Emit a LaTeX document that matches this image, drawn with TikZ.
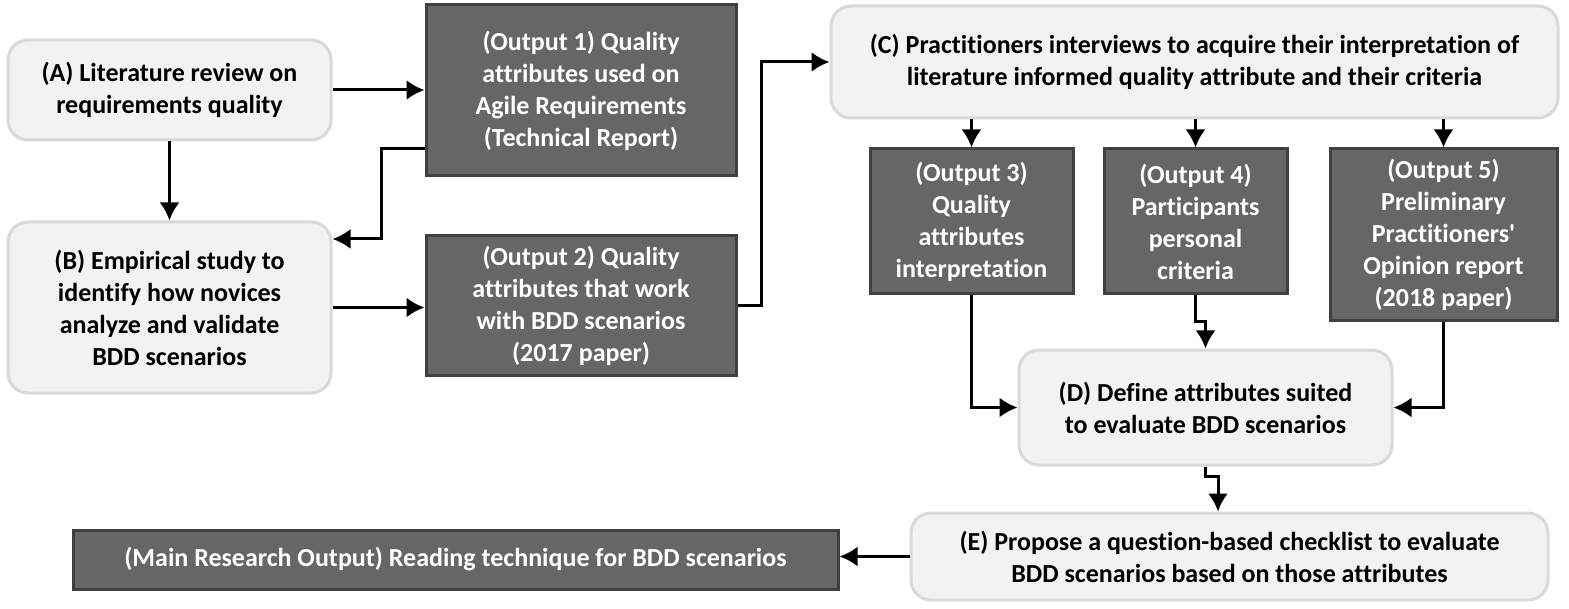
\documentclass[tikz,border=0pt]{standalone}
\usepackage{fontspec}
\setmainfont{Carlito}[Ligatures={NoCommon}]
\usetikzlibrary{arrows.meta}
\usetikzlibrary{calc}
\tikzset{x=0.5pt, y=-0.5pt,
phase/.style={ % Light boxes for the steps of the study
draw=gray!30,
line width=1.5pt,
fill=gray!10,
rounded corners=10pt,
align=center,
inner sep=0pt,
font=\fontsize{13}{16}\selectfont\bfseries},
outbox/.style={ % Dark boxes for the outputs
draw=black!75,
line width=1.5pt,
fill=black!60,
text=white,
align=center,
inner sep=0pt,
font=\fontsize{13}{16}\selectfont\bfseries},
flow/.style={ % Sets the properties for each connector
draw,
line width=1.5pt,
-{Latex[length=9pt,width=10pt]}}}

\begin{document}
\begin{tikzpicture}
	\useasboundingbox (0,0) rectangle (1569,609);
	\node[phase, minimum width=161.5pt, minimum height=50pt] (A) at (169.5,90) {(A) Literature review on\\requirements quality};
	\node[outbox, minimum width=155pt, minimum height=85.5pt] (O1) at (581,90.5) {(Output 1) Quality\\attributes used on\\Agile Requirements\\(Technical Report)};
	\node[phase, minimum width=161.5pt, minimum height=85.5pt] (B) at (169.5,307.5) {(B) Empirical study to\\identify how novices\\analyze and validate\\BDD scenarios};
	\node[outbox, minimum width=155pt, minimum height=69.5pt] (O2) at (581,305.5) {(Output 2) Quality\\attributes that work\\with BDD scenarios\\(2017 paper)};
	\node[phase, minimum width=363.5pt, minimum height=56pt] (C) at (1194.5,62) {(C) Practitioners interviews to acquire their interpretation of\\literature informed quality attribute and their criteria};
	\node[outbox, minimum width=101.5pt, minimum height=72.5pt] (O3) at (971.5,221.5) {(Output 3)\\Quality\\attributes\\interpretation};
	\node[outbox, minimum width=91.5pt, minimum height=72.5pt] (O4) at (1195.5,221.5) {(Output 4)\\Participants\\personal\\criteria};
	\node[outbox, minimum width=113.5pt, minimum height=86pt] (O5) at (1443.5,235) {(Output 5)\\Preliminary\\Practitioners\textquotesingle\\Opinion report\\(2018 paper)};
	\node[phase, minimum width=186.5pt, minimum height=57.5pt] (D) at (1205.5,407.5) {(D) Define attributes suited\\to evaluate BDD scenarios};
	\node[phase, minimum width=318.5pt, minimum height=43.5pt] (E) at (1229.5,556.5) {(E) Propose a question-based checklist to evaluate\\BDD scenarios based on those attributes};
	\node[outbox, minimum width=382.5pt, minimum height=29.5pt] (M) at (455.5,559.5) {(Main Research Output) Reading technique for BDD scenarios};
	\draw[flow] (A.east) -- (A.east -| O1.west);
	\draw[flow] (A.south) -- (B.north);
	\draw[flow] ($(O1.west)+(0,58.5)$) -- ++(-43,0) |- ($(B.east)+(0,-68.5)$);
	\draw[flow] (B.east) -- (B.east -| O2.west);
	\draw[flow] (O2.east) -- ++(24,0) |- (C.west);
	\draw[flow] (C.south -| O3.north) -- (O3.north);
	\draw[flow] (C.south -| O4.north) -- (O4.north);
	\draw[flow] (C.south -| O5.north) -- (O5.north);
	\draw[flow] (O3.south) |- (D.west);
	\draw[flow] (O4.south) -- ++(0,26) -| (D.north);
	\draw[flow] (O5.south) |- (D.east);
	\draw[flow] (D.south) -- ++(0,10) -| ($(E.north)+(-11.5,0)$);
	\draw[flow] (E.west) -- (E.west -| M.east);
\end{tikzpicture}
\end{document}
